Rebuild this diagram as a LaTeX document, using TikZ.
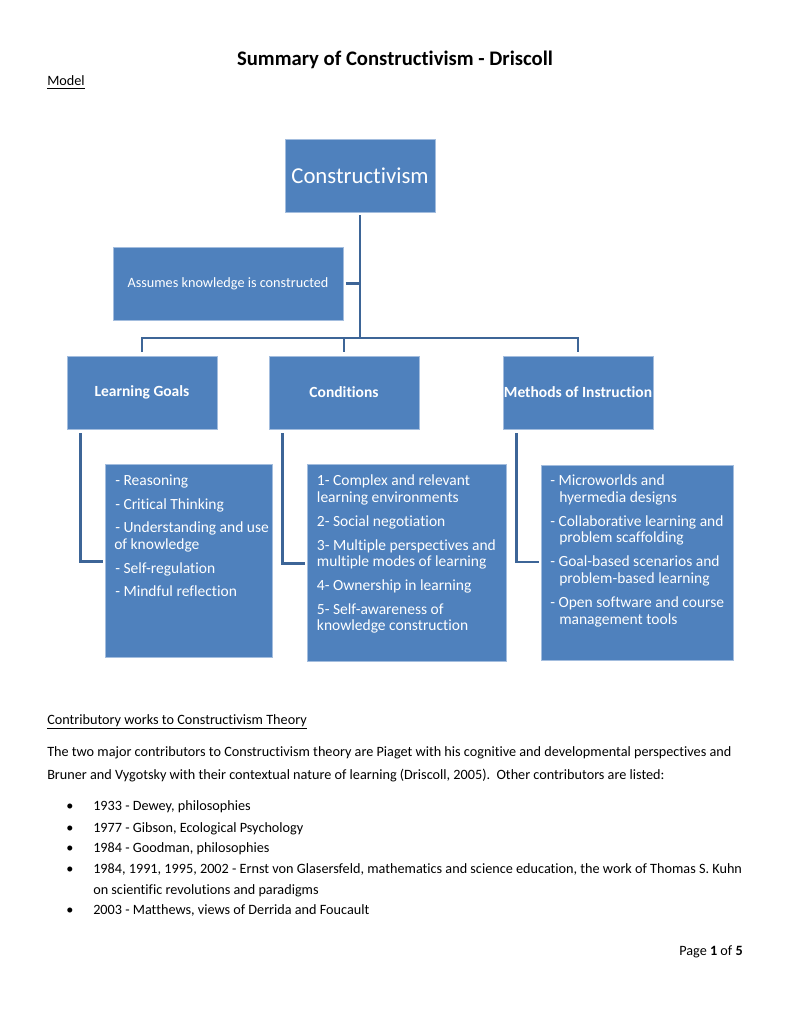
\documentclass[tikz,border=0pt]{standalone}
\usepackage{fontspec}
\setmainfont{Carlito}[Ligatures={NoCommon}]
\definecolor{boxblue}{HTML}{4F81BD}
\definecolor{boxedge}{HTML}{A3BDDE}
\definecolor{connblue}{HTML}{3D6597}
\begin{document}
\begin{tikzpicture}[x=0.7736pt,y=-0.7736pt,
  box/.style={fill=boxblue,draw=boxedge,line width=0.6pt,text=white,inner sep=0pt,font=\fontsize{11}{13}\selectfont},
  wh/.style 2 args={minimum width=#1*0.7736pt,minimum height=#2*0.7736pt},
  hd/.style={font=\fontsize{12}{14}\selectfont\bfseries},
  conn/.style={draw=connblue,line width=2.3pt},
  wt/.style={text=white,inner sep=0pt,anchor=base west,font=\fontsize{12}{14}\selectfont},
  bt/.style={text=black,inner sep=0pt,anchor=base west,font=\fontsize{11}{13}\selectfont}]
\useasboundingbox[fill=white] (0,0) rectangle (791,1024);

% title
\node[inner sep=0pt,anchor=base,font=\fontsize{16}{19}\selectfont\bfseries] (title) at (395,66) {Summary of Constructivism - Driscoll};
\node[bt] (model) at (47,86) {\underline{Model}};

% boxes
\node[box,wh={150}{73},font=\fontsize{17.6}{20}\selectfont] (root) at (360,175.5) {Constructivism};
\node[box,wh={230}{73}] (assume) at (228,283.5) {Assumes knowledge is constructed};
\node[box,wh={150}{73},hd] (lg) at (142,392.5) {Learning Goals};
\node[box,wh={150}{73},hd] (cd) at (344,392.5) {Conditions};
\node[box,wh={150}{73},hd] (mi) at (578,392.5) {Methods of Instruction};
\node[box,wh={167}{193}] (lgL) at (188.5,560.5) {};
\node[box,wh={199}{197}] (cdL) at (406.5,562.5) {};
\node[box,wh={192}{195}] (miL) at (637,562.5) {};

% connectors
\coordinate (jc) at (360,338);
\draw[conn] ([yshift=-2.3pt]root.south) -- ([yshift=-1.15pt]jc);
\draw[conn] ([xshift=2pt]assume.east) -- (assume.east -| jc);
\draw[conn] ([yshift=3pt]lg.north) -- (lg.north |- jc) -- (mi.north |- jc) -- ([yshift=3pt]mi.north);
\draw[conn] ([yshift=3pt]cd.north) -- (cd.north |- jc);
\draw[conn] ([xshift=10.83pt,yshift=-3pt]lg.south west) |- ([xshift=-1.6pt,yshift=-1.1pt]lgL.west);
\draw[conn] ([xshift=11pt,yshift=-3pt]cd.south west) |- ([xshift=-1.6pt,yshift=-1.1pt]cdL.west);
\draw[conn] ([xshift=10.83pt,yshift=-3pt]mi.south west) |- ([xshift=-1.6pt,yshift=0.4pt]miL.west);

% learning goals list
\node[wt] (lg1) at (115,485.5) {- Reasoning};
\node[wt] (lg2) at (115,509) {- Critical Thinking};
\node[wt] (lg3) at (115,532.5) {- Understanding and use};
\node[wt] (lg4) at (114,549.5) {of knowledge};
\node[wt] (lg5) at (115,573.3) {- Self-regulation};
\node[wt] (lg6) at (115,596.7) {- Mindful reflection};

% conditions list
\node[wt] (cd1) at (316.7,485) {1- Complex and relevant};
\node[wt] (cd2) at (316.7,502) {learning environments};
\node[wt] (cd3) at (316.7,526) {2- Social negotiation};
\node[wt] (cd4) at (316.7,550) {3- Multiple perspectives and};
\node[wt] (cd5) at (316.7,566.7) {multiple modes of learning};
\node[wt] (cd6) at (316.7,590.7) {4- Ownership in learning};
\node[wt] (cd7) at (316.7,614) {5- Self-awareness of};
\node[wt] (cd8) at (316.7,630.7) {knowledge construction};

% methods list
\node[wt] (mi1) at (550,485.3) {- Microworlds and};
\node[wt] (mi2) at (559,502.3) {hyermedia designs};
\node[wt] (mi3) at (550,526) {- Collaborative learning and};
\node[wt] (mi4) at (559,542.7) {problem scaffolding};
\node[wt] (mi5) at (550,566) {- Goal-based scenarios and};
\node[wt] (mi6) at (559,583.3) {problem-based learning};
\node[wt] (mi7) at (550,607.3) {- Open software and course};
\node[wt] (mi8) at (559,624) {management tools};

% body text
\node[bt] (contrib) at (47,724.3) {\underline{Contributory works to Constructivism Theory}};
\node[bt] (p1) at (47,756) {The two major contributors to Constructivism theory are Piaget with his cognitive and developmental perspectives and};
\node[bt] (p2) at (47,779) {Bruner and Vygotsky with their contextual nature of learning (Driscoll, 2005).\ \ Other contributors are listed:};

\foreach \yy/\nm in {810/b1,832/b2,852/b3,873/b4,914/b6}{
  \node[bt,anchor=base] (\nm) at (70,\yy) {•};
}
\node[bt] (t1) at (93,810) {1933 - Dewey, philosophies};
\node[bt] (t2) at (93,832) {1977 - Gibson, Ecological Psychology};
\node[bt] (t3) at (93,852) {1984 - Goodman, philosophies};
\node[bt] (t4) at (93,873) {1984, 1991, 1995, 2002 - Ernst von Glasersfeld, mathematics and science education, the work of Thomas S. Kuhn};
\node[bt] (t5) at (93,894) {on scientific revolutions and paradigms};
\node[bt] (t6) at (93,914) {2003 - Matthews, views of Derrida and Foucault};

\node[bt,anchor=base east] (page) at (743,955) {Page \textbf{1} of \textbf{5}};
\end{tikzpicture}
\end{document}
